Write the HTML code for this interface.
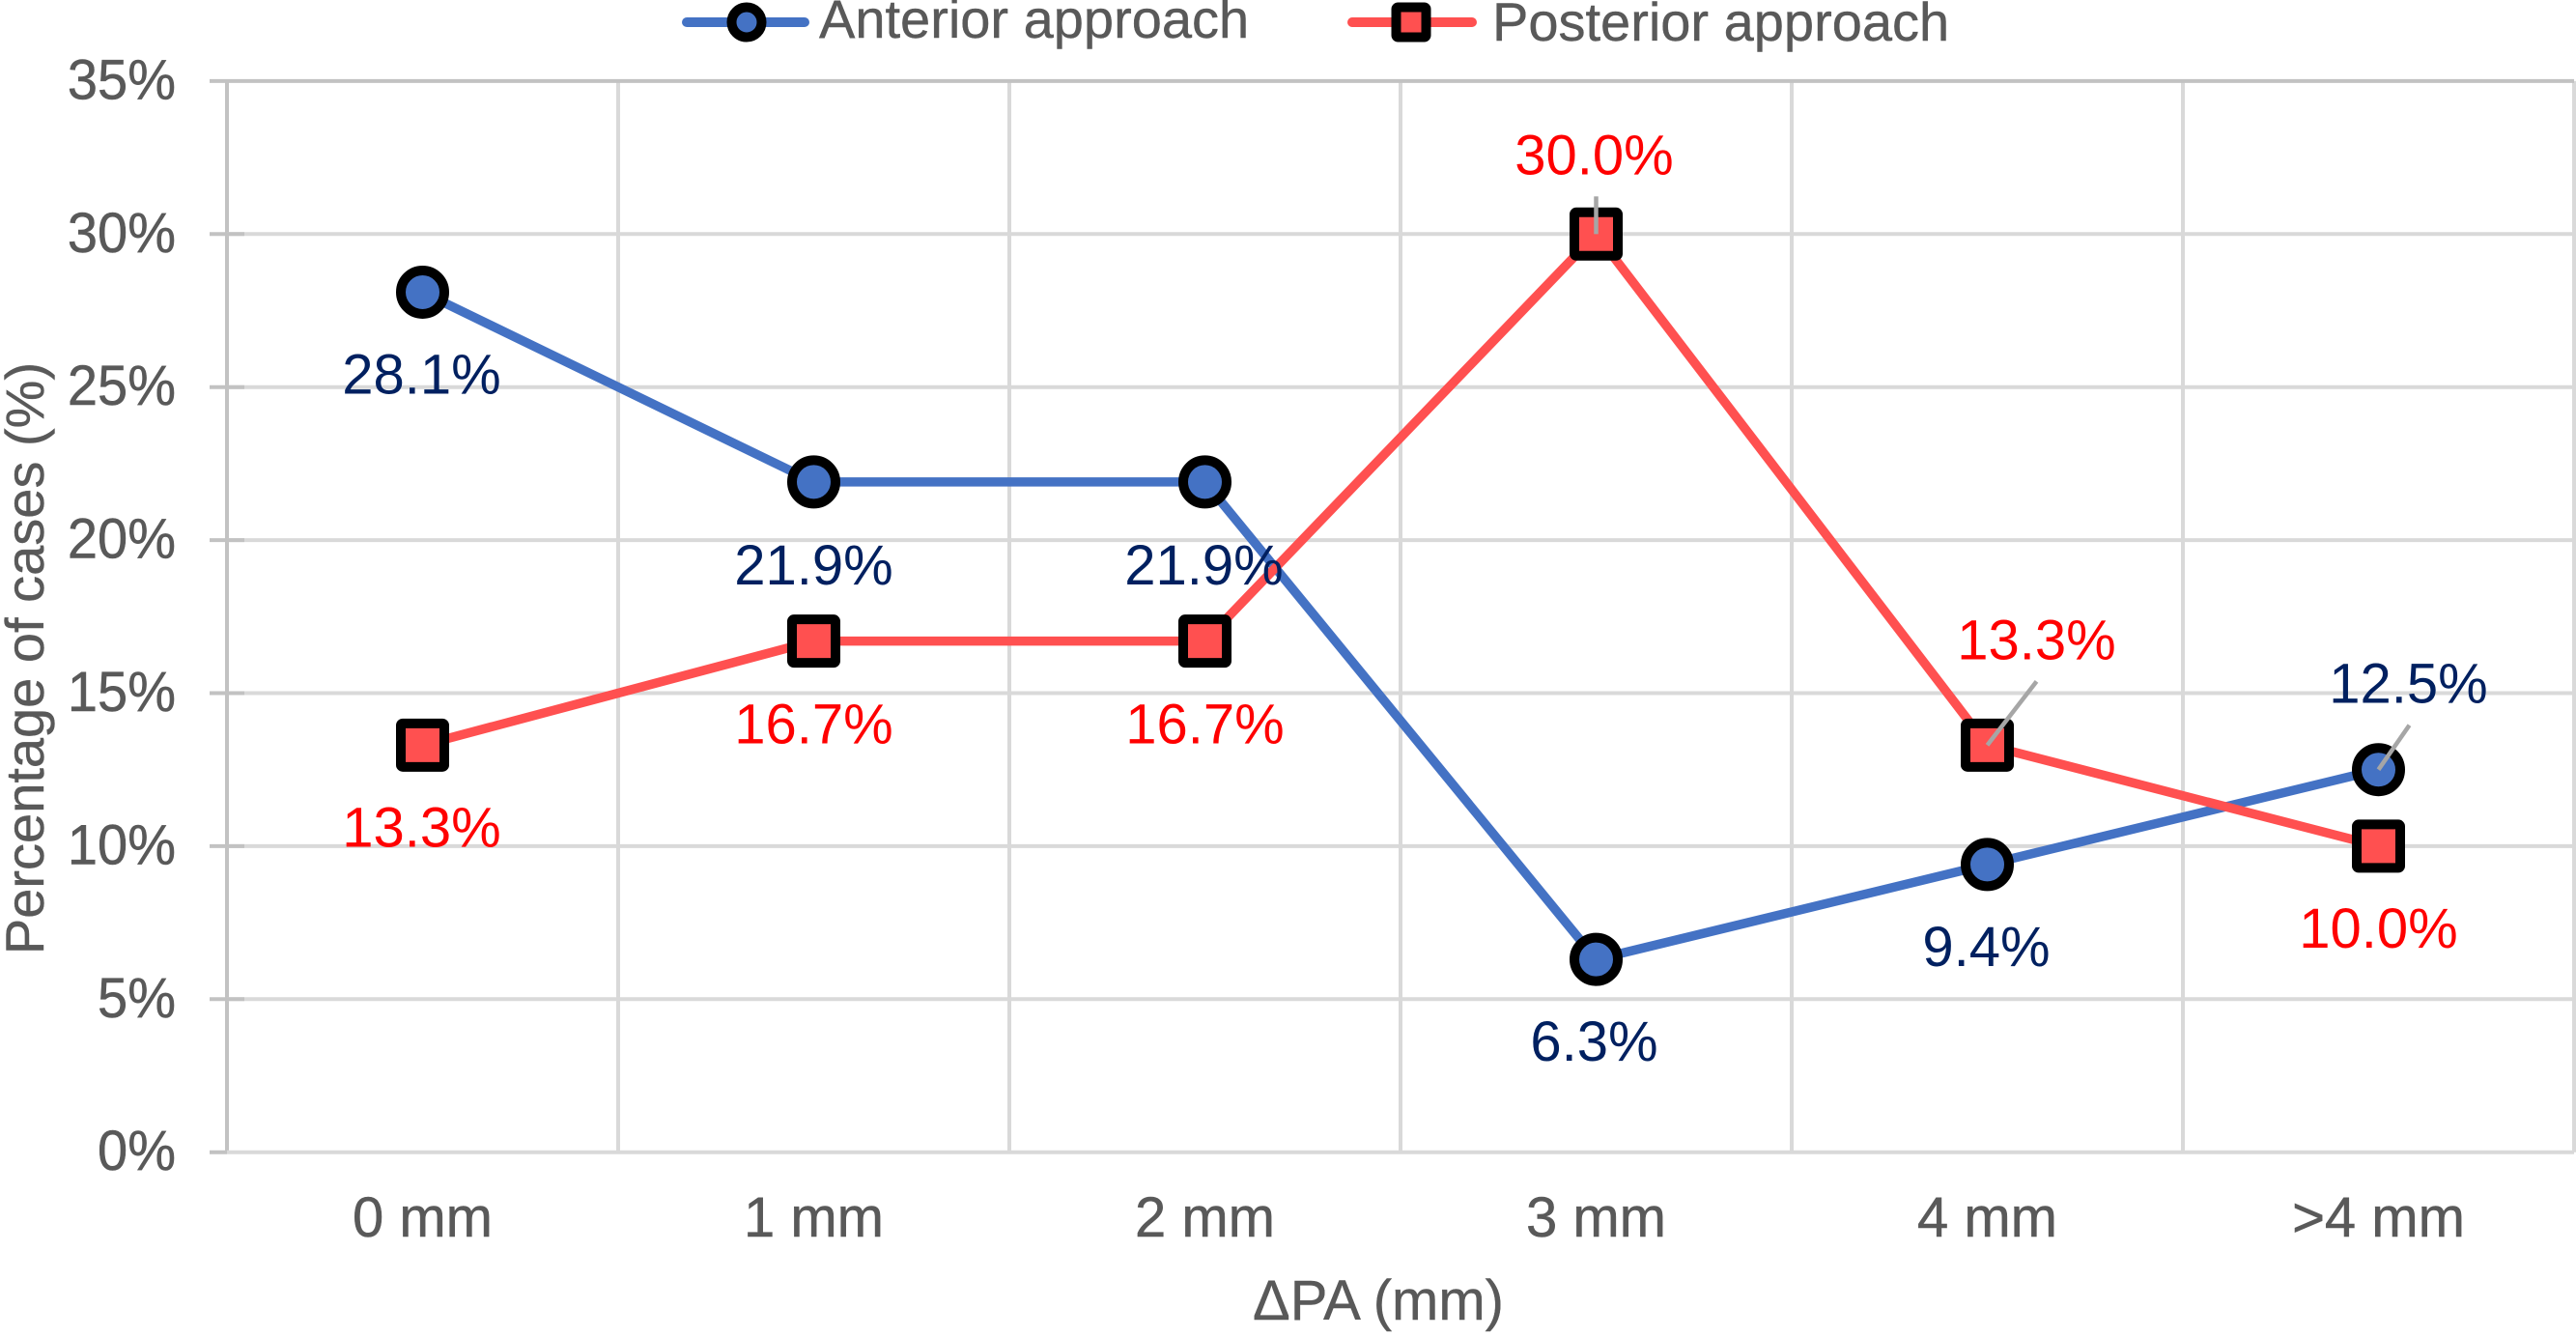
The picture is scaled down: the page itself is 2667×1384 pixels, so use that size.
<!DOCTYPE html>
<html lang="en">
<head>
<meta charset="utf-8">
<title>Percentage of cases by ΔPA</title>
<style>
html,body{margin:0;padding:0;background:#fff;}
svg{display:block;font-family:"Liberation Sans",Arial,sans-serif;}
</style>
</head>
<body>
<svg id="chart" xmlns="http://www.w3.org/2000/svg" width="2667" height="1384" viewBox="0 0 2667 1384">
  <rect x="0" y="0" width="2667" height="1384" fill="#ffffff"/>
  <g id="grid"></g>
  <g id="ticks"></g>
  <g id="series"></g>
  <g id="markers"></g>
  <g id="leaders"></g>
  <g id="labels"></g>

  <g>
    <g>
      <line x1="711" y1="23" x2="833" y2="23" stroke="#4472c4" stroke-width="10" stroke-linecap="round"/>
      <circle cx="773" cy="23" r="15.5" fill="#4472c4" stroke="#000" stroke-width="10"/>
      <text x="848" y="39" font-size="56" fill="#595959" stroke="#595959" stroke-width="0.4">Anterior approach</text>
    </g>
    <g>
      <line x1="1400" y1="23" x2="1524" y2="23" stroke="#ff5050" stroke-width="10" stroke-linecap="round"/>
      <rect x="1445.5" y="7.5" width="31" height="31" rx="2" fill="#ff5050" stroke="#000" stroke-width="10"/>
      <text x="1545" y="42" font-size="56" fill="#595959" stroke="#595959" stroke-width="0.4">Posterior approach</text>
    </g>
  </g>

  <text transform="translate(45,681.5) rotate(-90)" text-anchor="middle" font-size="56" fill="#595959" stroke="#595959" stroke-width="0.4">Percentage of cases (%)</text>
  <text x="1427" y="1366" text-anchor="middle" font-size="58" fill="#595959" stroke="#595959" stroke-width="0.4">ΔPA (mm)</text>
</svg>

<script>
const categories = ['0 mm', '1 mm', '2 mm', '3 mm', '4 mm', '>4 mm'];
const anteriorValues = [28.1, 21.9, 21.9, 6.3, 9.4, 12.5];
const posteriorValues = [13.3, 16.7, 16.7, 30.0, 13.3, 10.0];
const yTickLabels = ['0%', '5%', '10%', '15%', '20%', '25%', '30%', '35%'];
const yTickValues = [0, 5, 10, 15, 20, 25, 30, 35];

const NS = 'http://www.w3.org/2000/svg';
const plot = { left: 235, right: 2665, bottom: 1192.7, top: 83.9, yMax: 35 };
const colors = { blue: '#4472c4', red: '#ff5050', navy: '#002060', pure: '#ff0000', text: '#595959', grid: '#d9d9d9', axis: '#c2c2c2', leader: '#a6a6a6' };

function bandWidth() { return (plot.right - plot.left) / categories.length; }
function xEdge(i) { return plot.left + i * bandWidth(); }
function xScale(i) { return plot.left + (i + 0.5) * bandWidth(); }
function yScale(v) { return plot.bottom - (v / plot.yMax) * (plot.bottom - plot.top); }

function make(tag, parent, attrs, text) {
  const el = document.createElementNS(NS, tag);
  for (const k in attrs) el.setAttribute(k, attrs[k]);
  if (text !== undefined) el.textContent = text;
  document.getElementById(parent).appendChild(el);
  return el;
}

// Gridlines: vertical band edges
for (let i = 0; i <= categories.length; i++) {
  const v = make('line', 'grid', { x1: xEdge(i), x2: xEdge(i), y1: plot.top, y2: plot.bottom, stroke: i === 0 ? colors.axis : colors.grid, 'stroke-width': 4 });
  
  
}

// Gridlines, ticks and tick labels on the value axis
yTickValues.forEach(function (val, i) {
  const isTop = val === plot.yMax;
  const g = make('line', 'grid', { x1: plot.left, x2: plot.right, y1: yScale(val), y2: yScale(val), stroke: isTop ? colors.axis : colors.grid, 'stroke-width': 4 });
  
  

  const inner = (val === 0 || isTop) ? plot.left : plot.left + 18;
  const t = make('line', 'ticks', { x1: plot.left - 18, x2: inner, y1: yScale(val), y2: yScale(val), stroke: colors.axis, 'stroke-width': 4 });
  
  

  const l = make('text', 'ticks', { transform: 'translate(182,' + (yScale(val) + 18.5) + ') scale(1,1.04)', 'text-anchor': 'end', 'font-size': 56, fill: colors.text, stroke: colors.text, 'stroke-width': 0.5 }, yTickLabels[i]);
  
  
});

// Category labels
categories.forEach(function (c, i) {
  const l = make('text', 'ticks', { x: xScale(i), y: 1280, 'text-anchor': 'middle', 'font-size': 58, fill: colors.text, stroke: colors.text, 'stroke-width': 0.5 }, c);
  
  
});

function pathFor(values) {
  return values.map(function (v, i) { return (i ? 'L' : 'M') + xScale(i) + ' ' + yScale(v); }).join(' ');
}

// Series lines (anterior below posterior)
const anteriorLine = make('path', 'series', { d: pathFor(anteriorValues), fill: 'none', stroke: colors.blue, 'stroke-width': 9.5, 'stroke-linejoin': 'round' });


const posteriorLine = make('path', 'series', { d: pathFor(posteriorValues), fill: 'none', stroke: colors.red, 'stroke-width': 9.5, 'stroke-linejoin': 'round' });



// Markers
anteriorValues.forEach(function (v, i) {
  const m = make('circle', 'markers', { cx: xScale(i), cy: yScale(v), r: 22.5, fill: colors.blue, stroke: '#000', 'stroke-width': 10 });
  
  
});
posteriorValues.forEach(function (v, i) {
  const m = make('rect', 'markers', { x: xScale(i) - 22.5, y: yScale(v) - 22.5, width: 45, height: 45, rx: 2, fill: colors.red, stroke: '#000', 'stroke-width': 10 });
  
  
});

// Data label placement relative to each point (layout only, not data)
const anteriorPlacement = [
  { dx: -1, dy: 105 }, { dx: 0, dy: 106 }, { dx: -1, dy: 106 },
  { dx: -2, dy: 105 }, { dx: -1, dy: 105 }, { dx: 31, dy: -69, lead: [0, 0, 32, -46] }
];
const posteriorPlacement = [
  { dx: -1, dy: 105 }, { dx: 0, dy: 106 }, { dx: 0, dy: 106 },
  { dx: -2, dy: -62, lead: [0, 0, 0, -39] }, { dx: 51, dy: -89, lead: [0, 0, 51, -66] }, { dx: 0, dy: 105 }
];

function drawLabels(values, placement, color, seriesName) {
  values.forEach(function (v, i) {
    const p = placement[i];
    const px = xScale(i);
    const py = yScale(v);
    if (p.lead) {
      const ln = make('line', 'leaders', { x1: px + p.lead[0], y1: py + p.lead[1], x2: px + p.lead[2], y2: py + p.lead[3], stroke: colors.leader, 'stroke-width': 4.5 });
      
      
    }
    const t = make('text', 'labels', { x: px + p.dx, y: py + p.dy, 'text-anchor': 'middle', 'font-size': 58, fill: color }, v.toFixed(1) + '%');
    
    
  });
}
drawLabels(anteriorValues, anteriorPlacement, colors.navy, 'anterior');
drawLabels(posteriorValues, posteriorPlacement, colors.pure, 'posterior');
</script>
</body>
</html>
